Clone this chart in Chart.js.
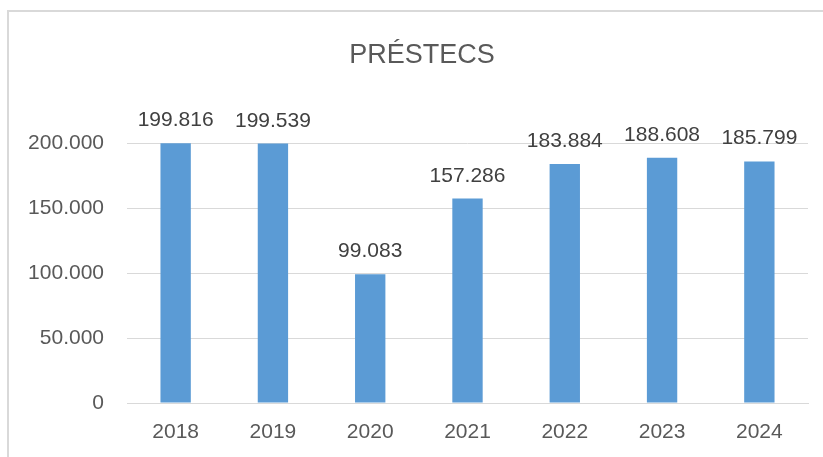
<!DOCTYPE html>
<html>
<head>
<meta charset="utf-8">
<script src="https://cdn.jsdelivr.net/npm/chart.js@4/dist/chart.umd.min.js"></script>
<style>
  html, body { margin: 0; padding: 0; background: #fff; }
  #wrap { width: 823px; height: 457px; position: relative; }
</style>
</head>
<body>
<div id="wrap"><canvas id="myChart"></canvas></div>
<script>
let titol = "PRÉSTECS";
let anys = ["2018", "2019", "2020", "2021", "2022", "2023", "2024"];
let prestecs = [199816, 199539, 99083, 157286, 183884, 188608, 185799];
let ticksY = [0, 50000, 100000, 150000, 200000];

let font = "'Liberation Sans', Arial, sans-serif";

function formatNum(n){
    return String(Math.round(n)).replace(/\B(?=(\d{3})+(?!\d))/g, ".");
}

// marc, titol i etiquetes de valor
const extres = {
    id: "extres",
    beforeDraw(chart){
        let ctx = chart.ctx;
        ctx.save();
        ctx.fillStyle = "#d9d9d9";
        ctx.fillRect(7, 10, 2, 447);
        ctx.fillRect(7, 10, 816, 2);
        ctx.restore();
    },
    afterDatasetsDraw(chart){
        let ctx = chart.ctx;
        ctx.save();
        ctx.fillStyle = "#595959";
        ctx.font = "27px " + font;
        ctx.textAlign = "center";
        ctx.textBaseline = "alphabetic";
        ctx.fillText(titol, 422, 63);

        ctx.fillStyle = "#404040";
        ctx.font = "21px " + font;
        let meta = chart.getDatasetMeta(0);
        meta.data.forEach((bar, i) => {
            ctx.fillText(formatNum(prestecs[i]), bar.x, bar.y - 17);
        });
        ctx.restore();
    }
};

const conf = {
    type: "bar",
    data: {
        labels: anys,
        datasets: [{
            label: titol,
            data: prestecs,
            backgroundColor: "#5b9bd5",
            barPercentage: 0.312,
            categoryPercentage: 1
        }]
    },
    options: {
        responsive: false,
        animation: false,
        devicePixelRatio: 1,
        layout: { padding: { top: 143, right: 15, bottom: 0, left: 0 } },
        plugins: {
            legend: { display: false },
            title: { display: false },
            tooltip: { enabled: false }
        },
        scales: {
            x: {
                grid: { display: false, drawTicks: false },
                border: { display: true, color: "#d9d9d9", width: 1 },
                ticks: { color: "#595959", font: { family: font, size: 21 }, padding: 17, maxRotation: 0 },
                afterFit(scale){ scale.height = 54; }
            },
            y: {
                min: 0,
                max: 200000,
                afterBuildTicks(scale){ scale.ticks = ticksY.map(v => ({ value: v })); },
                grid: { color: "#d9d9d9", lineWidth: 1, drawTicks: false },
                border: { display: false },
                ticks: {
                    color: "#595959",
                    font: { family: font, size: 21 },
                    padding: 23,
                    callback: v => formatNum(v)
                },
                afterFit(scale){ scale.width = 127; }
            }
        }
    },
    plugins: [extres]
};

let canvas = document.querySelector("#myChart");
canvas.width = 823;
canvas.height = 457;
new Chart(canvas, conf);
</script>
</body>
</html>
